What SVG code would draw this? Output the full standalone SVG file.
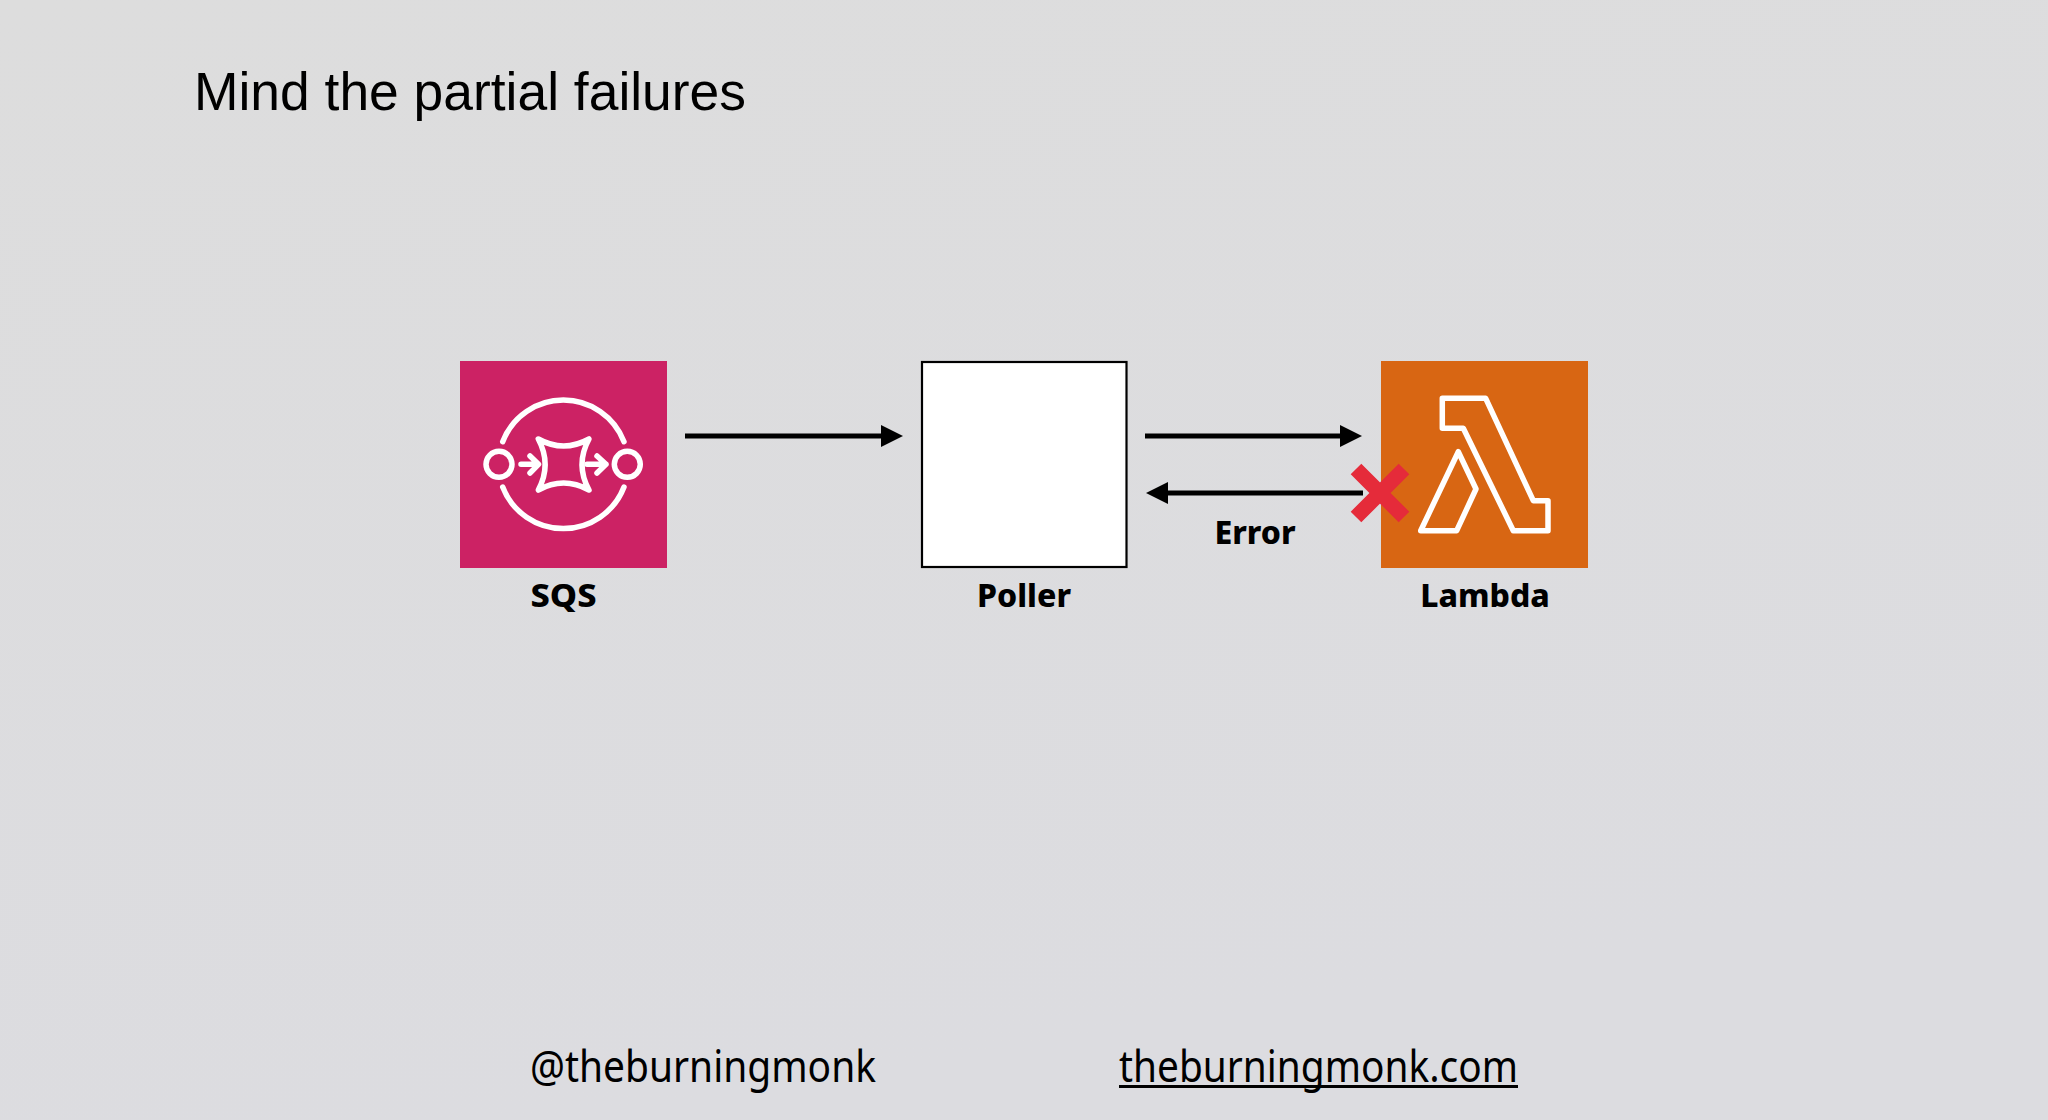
<svg xmlns="http://www.w3.org/2000/svg" width="2048" height="1120" viewBox="0 0 2048 1120">
<style>
.lbl{font-family:"Noto Sans","DejaVu Sans",sans-serif;font-weight:800;font-size:32px;fill:#000;text-anchor:middle}
.foot{font-family:"Noto Sans","Open Sans",sans-serif;font-size:43px;fill:#000}
.ico{fill:none;stroke:#fff;stroke-width:5.500;stroke-linecap:round;stroke-linejoin:round}
.conn{stroke:#000;stroke-width:5;fill:none}
</style>
<defs>
<linearGradient id="bg" x1="0" y1="0" x2="0.3" y2="1"><stop offset="0" stop-color="#dddddd"/><stop offset="1" stop-color="#dcdce0"/></linearGradient>
<marker id="ah" markerUnits="userSpaceOnUse" markerWidth="22" markerHeight="22" refX="11" refY="11" orient="auto-start-reverse"><path d="M0 0L22 11L0 22Z" fill="#000"/></marker>
</defs>
<rect width="2048" height="1120" fill="url(#bg)"/>
<text id="title" x="194" y="110" font-family="Liberation Sans, Arial, sans-serif" font-size="53.400" fill="#000">Mind the partial failures</text>
<g id="connectors">
<line class="conn" x1="685" y1="436" x2="892" y2="436" marker-end="url(#ah)"/>
<line class="conn" x1="1145" y1="436" x2="1351" y2="436" marker-end="url(#ah)"/>
<line class="conn" x1="1363" y1="493" x2="1157" y2="493" marker-end="url(#ah)"/>
</g>
<g id="sqs">
<rect x="460" y="361" width="207" height="207" fill="#cc2264"/>
<g class="ico">
<path d="M502.7 441.7A65 65 0 0 1 624 441.7"/>
<path d="M502.7 487A65 65 0 0 0 624 487"/>
<circle cx="499" cy="464.3" r="13"/>
<circle cx="627.3" cy="464.3" r="13"/>
<path d="M538.3 439Q563.6 453 589 439Q575 464.5 589 490Q563.6 476 538.3 490Q552 464.5 538.3 439Z"/>
<path d="M521 464.3H538M530 456L538.5 464.3L530 473"/>
<path d="M587 464.3H606M597 456L606 464.3L597 473"/>
</g>
<text class="lbl" x="563.500" y="607" textLength="66" lengthAdjust="spacingAndGlyphs">SQS</text>
</g>
<g id="poller">
<rect x="922" y="362" width="204.500" height="205" fill="#fff" stroke="#000" stroke-width="2.200"/>
<text class="lbl" x="1024" y="607">Poller</text>
</g>
<g id="lambda">
<rect x="1381" y="361" width="207" height="207" fill="#d86613"/>
<g class="ico">
<path d="M1442.300 398.300H1485.700L1533.300 500.700H1548V530.700H1513.300L1463.300 428.300H1442.300Z" stroke-linecap="butt"/>
<path d="M1458.300 451.700L1476 489L1456.700 530.700H1420.700Z"/>
</g>
<text class="lbl" x="1485" y="607">Lambda</text>
</g>
<g id="error-mark">
<path d="M1356 469L1404 517M1404 469L1356 517" stroke="#e52b3a" stroke-width="15" fill="none"/>
</g>
<text id="error-label" class="lbl" x="1255" y="544">Error</text>
<text id="handle" class="foot" x="530" y="1082" textLength="346" lengthAdjust="spacingAndGlyphs">@theburningmonk</text>
<text id="site" class="foot" x="1119" y="1082" textLength="399" lengthAdjust="spacingAndGlyphs">theburningmonk.com</text>
<rect x="1119" y="1085" width="399" height="3" fill="#000"/>
</svg>
